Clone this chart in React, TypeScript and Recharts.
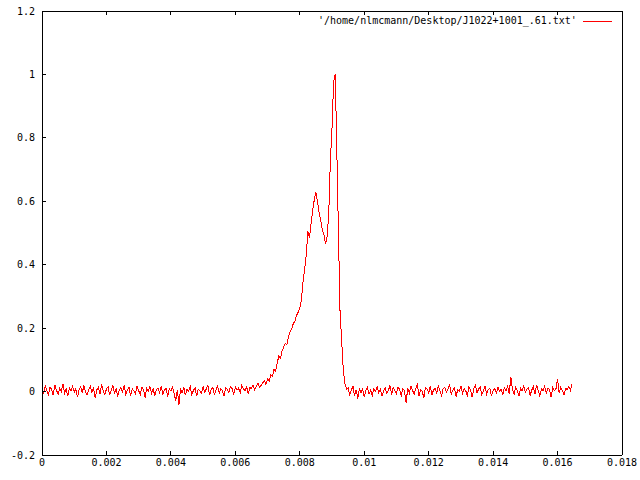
import { LineChart, Line, XAxis, YAxis, Legend } from 'recharts';

// sample spacing of the trace (seconds)
const dt = 0.00005;

// flat noisy baseline before the pulse (0 .. 0.00675)
const preRise = [
  0.012, -0.004, 0.018, 0.002, -0.01, 0.015, 0.006, -0.012, 0.022, 0.004,
  -0.008, 0.01, 0.001, 0.025, -0.006, 0.008, -0.015, 0.012, 0.003, 0.017,
  -0.002, 0.009, -0.018, 0.006, 0.014, -0.005, 0.02, 0.0, -0.011, 0.007,
  0.016, -0.003, 0.011, -0.02, 0.005, 0.013, -0.007, 0.024, 0.002, -0.009,
  0.008, 0.015, -0.012, 0.004, 0.019, -0.004, 0.01, -0.016, 0.006, 0.012,
  -0.001, 0.021, -0.008, 0.005, 0.013, -0.014, 0.009, 0.002, -0.006, 0.017,
  0.003, -0.011, 0.014, 0.007, -0.019, 0.01, 0.001, 0.016, -0.005, 0.008,
  -0.013, 0.006, 0.012, -0.003, 0.018, -0.009, 0.004, 0.011, -0.017, 0.009,
  0.002, 0.014, -0.007, -0.028, 0.005, -0.042, 0.01, -0.004, 0.013, -0.012,
  0.007, 0.001, 0.016, -0.01, 0.004, 0.012, -0.015, 0.008, 0.003, -0.006,
  0.015, -0.002, 0.009, 0.02, -0.011, 0.006, 0.013, -0.008, 0.004, 0.018,
  -0.005, 0.01, 0.002, -0.014, 0.012, 0.007, -0.003, 0.016, 0.009, -0.01,
  0.014, 0.005, 0.011, -0.004, 0.019, 0.008, 0.003, 0.015, -0.006, 0.012,
  0.01, 0.021, 0.006, 0.017, 0.026, 0.014,
];

// rise, shoulder at ~0.0085, main peak at ~0.009, fall
const pulse = [
  0.02, 0.028, 0.034, 0.022, 0.041, 0.033, 0.052, 0.047, 0.07, 0.065,
  0.09, 0.112, 0.105, 0.128, 0.14, 0.152, 0.148, 0.172, 0.19, 0.198,
  0.215, 0.222, 0.24, 0.25, 0.262, 0.29, 0.345, 0.385, 0.43, 0.505,
  0.485, 0.53, 0.57, 0.605, 0.628, 0.6, 0.565, 0.54, 0.51, 0.495,
  0.465, 0.49, 0.565, 0.73, 0.83, 0.975, 1.0, 0.76, 0.5, 0.25,
  0.16, 0.07, 0.025, 0.008,
];

// baseline after the pulse (0.0095 .. 0.01645)
const postFall = [
  0.012, -0.01, 0.004, 0.018, -0.015, 0.006, -0.022, 0.01, -0.005, 0.008,
  -0.018, 0.003, 0.014, -0.008, 0.005, -0.012, 0.009, 0.001, 0.016, -0.004,
  0.007, -0.014, 0.002, 0.011, -0.006, 0.004, 0.019, -0.01, 0.013, 0.003,
  -0.007, 0.015, 0.006, -0.012, 0.009, 0.002, -0.036, 0.012, -0.005, 0.017,
  0.004, -0.009, 0.01, 0.022, -0.015, 0.006, 0.001, -0.02, 0.013, 0.008,
  -0.004, 0.016, -0.011, 0.005, 0.011, -0.007, 0.019, 0.002, -0.013, 0.009,
  0.014, -0.003, 0.007, 0.024, -0.009, 0.004, 0.012, -0.016, 0.006, 0.001,
  0.018, -0.006, 0.009, 0.003, -0.012, 0.015, 0.005, -0.018, 0.01, 0.02,
  -0.004, 0.008, 0.013, -0.01, 0.002, 0.017, -0.007, 0.006, 0.011, -0.014,
  0.004, 0.009, -0.005, 0.014, 0.001, 0.007, -0.011, 0.012, 0.003, 0.016,
  -0.006, 0.046, 0.008, -0.009, 0.013, 0.004, -0.015, 0.01, 0.002, 0.018,
  -0.003, 0.007, 0.012, -0.012, 0.005, 0.015, -0.008, 0.021, 0.003, -0.014,
  0.009, 0.001, 0.016, -0.006, 0.011, 0.006, -0.017, 0.013, 0.002, 0.008,
  0.04, -0.005, 0.014, 0.003, -0.011, 0.01, 0.006, 0.017, 0.004, 0.024,
];

const xTicks = [0, 0.002, 0.004, 0.006, 0.008, 0.01, 0.012, 0.014, 0.016, 0.018];
const yTicks = [-0.2, 0, 0.2, 0.4, 0.6, 0.8, 1, 1.2];

const seriesName = "'/home/nlmcmann/Desktop/J1022+1001_.61.txt'";

const values = [...preRise, ...pulse, ...postFall];
const data = values.map((v, i) => ({ x: +(i * dt).toFixed(5), y: v }));

const font = 'DejaVu Sans Mono';
const tickStyle = { fill: '#000', fontSize: 10, fontFamily: font };
const axisLine = { stroke: '#000', strokeWidth: 1, shapeRendering: 'crispEdges' };

function LegendBox() {
  return (
    <div style={{ display: 'flex', alignItems: 'center', fontFamily: font, fontSize: 10, color: '#000', whiteSpace: 'nowrap' }}>
      <span>{seriesName}</span>
      <svg width={29} height={4} style={{ marginLeft: 6 }}>
        <line x1={0} y1={2} x2={29} y2={2} stroke="#ff0000" strokeWidth={1} shapeRendering="crispEdges" />
      </svg>
    </div>
  );
}

export default function App() {
  return (
    <div style={{ position: 'absolute', left: 0, top: 0, background: '#fff' }}>
      <LineChart width={640} height={480} data={data} margin={{ top: 10, right: 17, bottom: 0, left: 0 }}>
        <XAxis
          dataKey="x"
          type="number"
          domain={[0, 0.018]}
          ticks={xTicks}
          height={25}
          tickSize={-4}
          tickMargin={8}
          tick={tickStyle}
          axisLine={axisLine}
          tickLine={axisLine}
          allowDataOverflow
        />
        <XAxis
          xAxisId="top"
          orientation="top"
          dataKey="x"
          type="number"
          domain={[0, 0.018]}
          ticks={xTicks}
          height={1}
          tickSize={-4}
          tickFormatter={() => ''}
          axisLine={axisLine}
          tickLine={axisLine}
        />
        <YAxis
          type="number"
          domain={[-0.2, 1.2]}
          ticks={yTicks}
          width={42}
          tickSize={-4}
          tickMargin={11}
          tick={tickStyle}
          axisLine={axisLine}
          tickLine={axisLine}
          allowDataOverflow
        />
        <YAxis
          yAxisId="right"
          orientation="right"
          type="number"
          domain={[-0.2, 1.2]}
          ticks={yTicks}
          width={1}
          tickSize={-4}
          tickFormatter={() => ''}
          axisLine={axisLine}
          tickLine={axisLine}
        />
        <Legend
          layout="horizontal"
          verticalAlign="middle"
          content={() => <LegendBox />}
          wrapperStyle={{ top: 15, left: 318, width: 'auto' }}
        />
        <Line
          type="linear"
          dataKey="y"
          name={seriesName}
          stroke="#ff0000"
          strokeWidth={1}
          shapeRendering="crispEdges"
          dot={false}
          isAnimationActive={false}
        />
      </LineChart>
    </div>
  );
}
